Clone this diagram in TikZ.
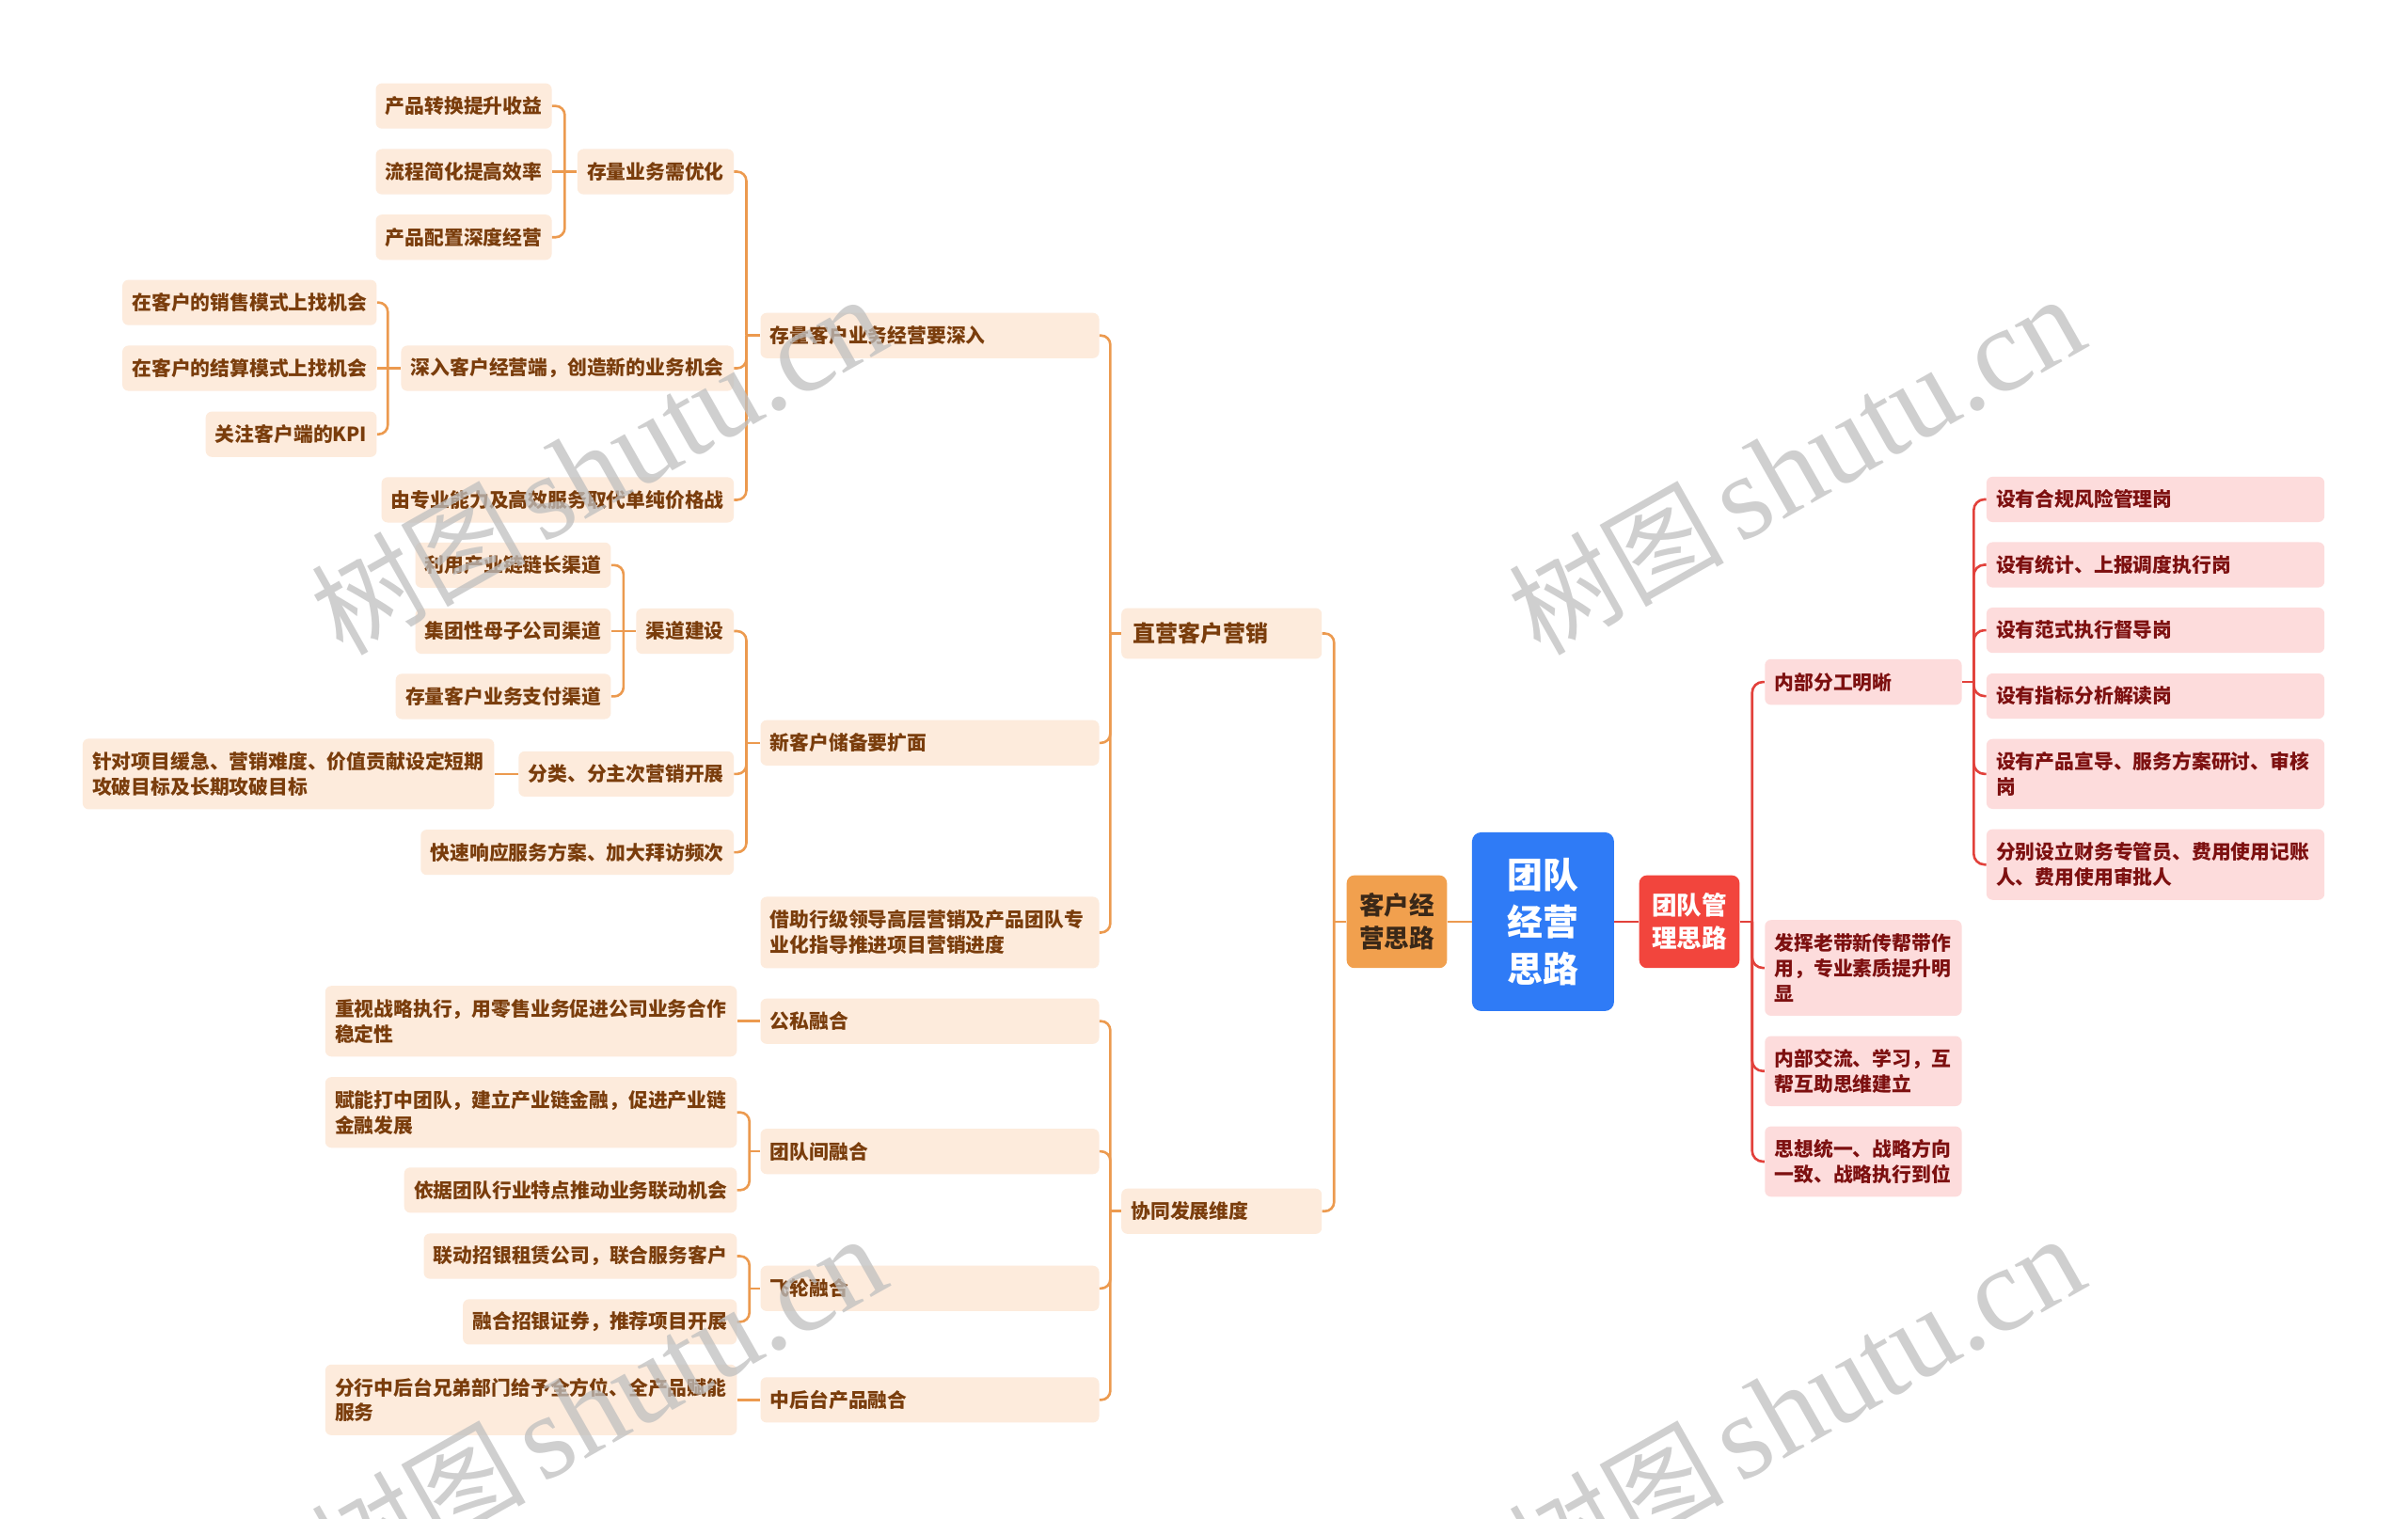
\documentclass[tikz,border=0pt]{standalone}
\usepackage{fontspec}
\setmainfont{Noto Sans CJK SC}
\newfontfamily\wmserif{Liberation Serif}
\definecolor{ofill}{HTML}{FDEBDC}
\definecolor{otext}{HTML}{7A3D0C}
\definecolor{ocl}{HTML}{EC9A4F}
\definecolor{rfill}{HTML}{FDDCDC}
\definecolor{rtext}{HTML}{7D1010}
\definecolor{rcl}{HTML}{E2413B}
\definecolor{rootblue}{HTML}{2F7BF6}
\definecolor{khfill}{HTML}{F1A04E}
\definecolor{khtext}{HTML}{3A2818}
\definecolor{tdfill}{HTML}{F2453D}
\tikzset{
  basebox/.style={rounded corners=4pt, inner xsep=6.3pt, inner ysep=0pt, align=left,
    font=\bfseries\fontsize{12.75pt}{16.5pt}\selectfont},
  onode/.style={basebox, fill=ofill, text=otext, minimum height=29.5pt},
  rnode/.style={basebox, fill=rfill, text=rtext, minimum height=29.5pt},
  ofix/.style={onode, text width=207.9pt},
  owide/.style={onode, text width=255.4pt, minimum height=46pt},
  rmid/.style={rnode, text width=115.6pt},
  rleaf/.style={rnode, text width=207.5pt},
  mainbox/.style={rounded corners=5pt, inner sep=0pt, align=center,
    minimum width=65.3pt, minimum height=60.4pt,
    font=\bfseries\fontsize{16.3pt}{21.4pt}\selectfont},
  ol/.style={draw=ocl, line width=1.6pt, rounded corners=6pt},
  rl/.style={draw=rcl, line width=1.6pt, rounded corners=7pt},
  wm/.style={text=black!25, text opacity=0.75, inner sep=0pt, rotate=29.5, anchor=base west}
}
\newcommand\wmtext{{\fontsize{70pt}{70pt}\selectfont\mdseries 树图}\hspace{10pt}{\wmserif\fontsize{78pt}{78pt}\selectfont shutu.cn}}
\begin{document}
\begin{tikzpicture}[x=1pt,y=-1pt]
\useasboundingbox (0,0) rectangle (1568,989);
\fill[white] (0,0) rectangle (1568,989);

% ---- centre
\node[mainbox, fill=rootblue, text=white, minimum width=92.5pt, minimum height=116.4pt,
  rounded corners=6pt, font=\bfseries\fontsize{23.2pt}{30.6pt}\selectfont] (root) at (1004.75,600.2) {团队\\经营\\思路};
\node[mainbox, fill=khfill, text=khtext] (kh) at (909.55,600.2) {客户经\\营思路};
\node[mainbox, fill=tdfill, text=white] (td) at (1100.05,600.2) {团队管\\理思路};

% ---- level 2 (left)
\node[onode, anchor=west, text width=115.5pt, inner xsep=7.5pt, minimum height=33pt,
  font=\bfseries\fontsize{14.7pt}{17pt}\selectfont] (zy) at (730,412.5) {直营客户营销};
\node[onode, anchor=west, text width=117.9pt] (xt) at (730,788.75) {协同发展维度};

% ---- level 3 (left)
\node[ofix, anchor=west] (a1) at (495,218.5) {存量客户业务经营要深入};
\node[ofix, anchor=west] (a2) at (495,483.75) {新客户储备要扩面};
\node[ofix, anchor=west, minimum height=46.5pt] (a3) at (495,607.25) {借助行级领导高层营销及产品团队专\\业化指导推进项目营销进度};
\node[ofix, anchor=west] (b1) at (495,665) {公私融合};
\node[ofix, anchor=west] (b2) at (495,749.8) {团队间融合};
\node[ofix, anchor=west] (b3) at (495,839) {飞轮融合};
\node[ofix, anchor=west] (b4) at (495,911.6) {中后台产品融合};

% ---- level 4 (left)
\node[onode, anchor=east] (a11) at (478,111.8) {存量业务需优化};
\node[onode, anchor=east] (a12) at (478,239.8) {深入客户经营端，创造新的业务机会};
\node[onode, anchor=east] (a13) at (478,325.5) {由专业能力及高效服务取代单纯价格战};
\node[onode, anchor=east] (a111) at (359.5,69) {产品转换提升收益};
\node[onode, anchor=east] (a112) at (359.5,111.8) {流程简化提高效率};
\node[onode, anchor=east] (a113) at (359.5,154.5) {产品配置深度经营};
\node[onode, anchor=east] (a121) at (245.5,197) {在客户的销售模式上找机会};
\node[onode, anchor=east] (a122) at (245.5,239.8) {在客户的结算模式上找机会};
\node[onode, anchor=east] (a123) at (245.5,282.8) {关注客户端的KPI};
\node[onode, anchor=east] (a21) at (478,411) {渠道建设};
\node[onode, anchor=east] (a22) at (478,504) {分类、分主次营销开展};
\node[onode, anchor=east] (a23) at (478,555) {快速响应服务方案、加大拜访频次};
\node[onode, anchor=east] (a211) at (398,368) {利用产业链链长渠道};
\node[onode, anchor=east] (a212) at (398,411) {集团性母子公司渠道};
\node[onode, anchor=east] (a213) at (398,453.5) {存量客户业务支付渠道};
\node[owide, anchor=east] (a221) at (322,504) {针对项目缓急、营销难度、价值贡献设定短期\\攻破目标及长期攻破目标};
\node[owide, anchor=east] (b11) at (480,665) {重视战略执行，用零售业务促进公司业务合作\\稳定性};
\node[owide, anchor=east] (b21) at (480,724.4) {赋能打中团队，建立产业链金融，促进产业链\\金融发展};
\node[onode, anchor=east] (b22) at (480,775) {依据团队行业特点推动业务联动机会};
\node[onode, anchor=east] (b31) at (480,818) {联动招银租赁公司，联合服务客户};
\node[onode, anchor=east] (b32) at (480,860.8) {融合招银证券，推荐项目开展};
\node[owide, anchor=east] (b41) at (480,911.6) {分行中后台兄弟部门给予全方位、全产品赋能\\服务};

% ---- right side
\node[rmid, anchor=west, minimum height=29.8pt] (r1) at (1149,444.1) {内部分工明晰};
\node[rmid, anchor=west, minimum height=62.3pt] (r2) at (1149,630.3) {发挥老带新传帮带作\\用，专业素质提升明\\显};
\node[rmid, anchor=west, minimum height=45.6pt] (r3) at (1149,697.5) {内部交流、学习，互\\帮互助思维建立};
\node[rmid, anchor=west, minimum height=45.8pt] (r4) at (1149,756.4) {思想统一、战略方向\\一致、战略执行到位};
\node[rleaf, anchor=west] (r11) at (1293.3,325.2) {设有合规风险管理岗};
\node[rleaf, anchor=west] (r12) at (1293.3,367.8) {设有统计、上报调度执行岗};
\node[rleaf, anchor=west] (r13) at (1293.3,410.4) {设有范式执行督导岗};
\node[rleaf, anchor=west] (r14) at (1293.3,453.3) {设有指标分析解读岗};
\node[rleaf, anchor=west, minimum height=45.5pt] (r15) at (1293.3,504) {设有产品宣导、服务方案研讨、审核\\岗};
\node[rleaf, anchor=west, minimum height=46pt] (r16) at (1293.3,563) {分别设立财务专管员、费用使用记账\\人、费用使用审批人};

% ---- connectors
\draw[ol] (kh.east) -- (root.west);
\draw[rl] (root.east) -- (td.west);

\coordinate (kh-b) at ([xshift=-8pt]kh.west);
\draw[ol] (kh.west) -- (kh-b);
\foreach \k in {zy,xt} \draw[ol] (kh-b) |- (\k.east);

\coordinate (zy-b) at ([xshift=-7pt]zy.west);
\draw[ol] (zy.west) -- (zy-b);
\foreach \k in {a1,a2,a3} \draw[ol] (zy-b) |- (\k.east);

\coordinate (xt-b) at ([xshift=-7pt]xt.west);
\draw[ol] (xt.west) -- (xt-b);
\foreach \k in {b1,b2,b3,b4} \draw[ol] (xt-b) |- (\k.east);

\coordinate (a1-b) at ([xshift=-9pt]a1.west);
\draw[ol] (a1.west) -- (a1-b);
\foreach \k in {a11,a12,a13} \draw[ol] (a1-b) |- (\k.east);

\coordinate (a11-b) at ([xshift=-8pt]a11.west);
\draw[ol] (a11.west) -- (a112.east);
\foreach \k in {a111,a113} \draw[ol] (a11-b) |- (\k.east);

\coordinate (a12-b) at ([xshift=-8.5pt]a12.west);
\draw[ol] (a12.west) -- (a122.east);
\foreach \k in {a121,a123} \draw[ol] (a12-b) |- (\k.east);

\coordinate (a2-b) at ([xshift=-9pt]a2.west);
\draw[ol] (a2.west) -- (a2-b);
\foreach \k in {a21,a22,a23} \draw[ol] (a2-b) |- (\k.east);

\coordinate (a21-b) at ([xshift=-8pt]a21.west);
\draw[ol] (a21.west) -- (a212.east);
\foreach \k in {a211,a213} \draw[ol] (a21-b) |- (\k.east);

\draw[ol] (a22.west) -- (a221.east);
\draw[ol] (b1.west) -- (b11.east);
\draw[ol] (b4.west) -- (b41.east);

\coordinate (b2-b) at ([xshift=-7pt]b2.west);
\draw[ol] (b2.west) -- (b2-b);
\foreach \k in {b21,b22} \draw[ol] (b2-b) |- (\k.east);

\coordinate (b3-b) at ([xshift=-7pt]b3.west);
\draw[ol] (b3.west) -- (b3-b);
\foreach \k in {b31,b32} \draw[ol] (b3-b) |- (\k.east);

\coordinate (td-b) at ([xshift=8pt]td.east);
\draw[rl] (td.east) -- (td-b);
\foreach \k in {r1,r2,r3,r4} \draw[rl] (td-b) |- (\k.west);

\coordinate (r1-b) at ([xshift=7.6pt]r1.east);
\draw[rl] (r1.east) -- (r1-b);
\foreach \k in {r11,r12,r13,r14,r15,r16} \draw[rl] (r1-b) |- (\k.west);

% ---- watermarks
\node[wm] (wm1) at (223,428) {\wmtext};
\node[wm] (wm2) at (1003,428) {\wmtext};
\node[wm] (wm3) at (223,1040) {\wmtext};
\node[wm] (wm4) at (1003,1040) {\wmtext};
\end{tikzpicture}
\end{document}
